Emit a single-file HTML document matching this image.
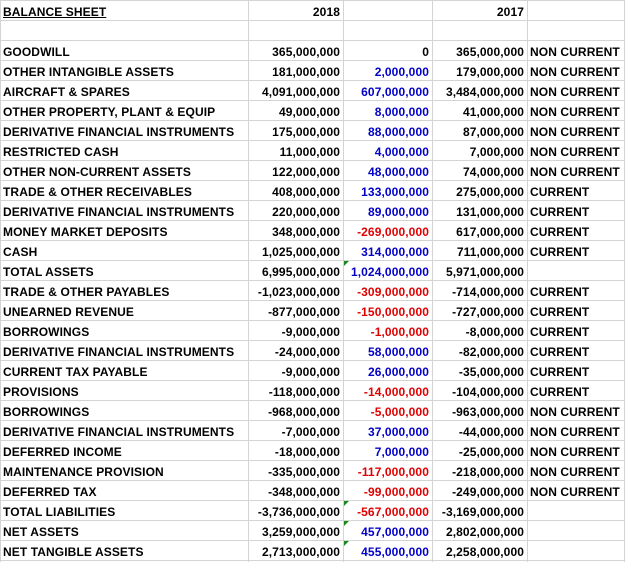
<!DOCTYPE html>
<html><head><meta charset="utf-8"><style>
body{margin:0;background:#fff;width:626px;height:562px;overflow:hidden;position:relative;font-family:"Liberation Sans",Arial,sans-serif;font-weight:bold;font-size:12px;letter-spacing:0.1px}
.c{position:absolute;height:20px;line-height:22px;white-space:nowrap;box-sizing:border-box}
.r{text-align:right;padding-right:3px;direction:ltr}
.l{padding-left:3px}
.hl{position:absolute;left:0;width:625px;height:1px;background:#d4d4d4}
.vl{position:absolute;top:0;height:562px;width:1px;background:#d4d4d4}
.tri{position:absolute;width:0;height:0;border-top:5px solid #1a8a1a;border-right:5px solid transparent}
.b{color:#0000c8}.rd{color:#e00000}
</style></head><body>
<div id="g"></div>
<script>
const labels=["GOODWILL","OTHER INTANGIBLE ASSETS","AIRCRAFT & SPARES","OTHER PROPERTY, PLANT & EQUIP","DERIVATIVE FINANCIAL INSTRUMENTS","RESTRICTED CASH","OTHER NON-CURRENT ASSETS","TRADE & OTHER RECEIVABLES","DERIVATIVE FINANCIAL INSTRUMENTS","MONEY MARKET DEPOSITS","CASH","TOTAL ASSETS","TRADE & OTHER PAYABLES","UNEARNED REVENUE","BORROWINGS","DERIVATIVE FINANCIAL INSTRUMENTS","CURRENT TAX PAYABLE","PROVISIONS","BORROWINGS","DERIVATIVE FINANCIAL INSTRUMENTS","DEFERRED INCOME","MAINTENANCE PROVISION","DEFERRED TAX","TOTAL LIABILITIES","NET ASSETS","NET TANGIBLE ASSETS"];
const v2018=[365000000,181000000,4091000000,49000000,175000000,11000000,122000000,408000000,220000000,348000000,1025000000,6995000000,-1023000000,-877000000,-9000000,-24000000,-9000000,-118000000,-968000000,-7000000,-18000000,-335000000,-348000000,-3736000000,3259000000,2713000000];
const change=[0,2000000,607000000,8000000,88000000,4000000,48000000,133000000,89000000,-269000000,314000000,1024000000,-309000000,-150000000,-1000000,58000000,26000000,-14000000,-5000000,37000000,7000000,-117000000,-99000000,-567000000,457000000,455000000];
const v2017=[365000000,179000000,3484000000,41000000,87000000,7000000,74000000,275000000,131000000,617000000,711000000,5971000000,-714000000,-727000000,-8000000,-82000000,-35000000,-104000000,-963000000,-44000000,-25000000,-218000000,-249000000,-3169000000,2802000000,2258000000];
const cls=["NON CURRENT","NON CURRENT","NON CURRENT","NON CURRENT","NON CURRENT","NON CURRENT","NON CURRENT","CURRENT","CURRENT","CURRENT","CURRENT","","CURRENT","CURRENT","CURRENT","CURRENT","CURRENT","CURRENT","NON CURRENT","NON CURRENT","NON CURRENT","NON CURRENT","NON CURRENT","","",""];
const flagged=[11,23,24,25];
const g=document.getElementById('g');
const X=[0,248,343,432,527,625];
function fmt(n){return (n<0?'-':'')+Math.abs(n).toLocaleString('en-US');}
function cell(col,row,text,align,extra,name){const d=document.createElement('div');


d.className='c '+align+(extra?' '+extra:'');d.style.left=X[col]+'px';d.style.top=(row*20+1)+'px';d.style.width=(X[col+1]-X[col])+'px';d.textContent=text;g.appendChild(d);return d;}
for(let i=0;i<=28;i++){const h=document.createElement('div');


h.className='hl';h.style.top=(i*20)+'px';g.appendChild(h);}
[0,248,343,432,527,624].forEach(x=>{const v=document.createElement('div');


v.className='vl';v.style.left=x+'px';g.appendChild(v);});
const t=cell(0,0,'BALANCE SHEET','l','','title');t.style.textDecoration='underline';
cell(1,0,'2018','r','','header-2018');
cell(3,0,'2017','r','','header-2017');
labels.forEach((lb,i)=>{const r=i+2;
cell(0,r,lb,'l','','row-label');
cell(1,r,fmt(v2018[i]),'r','','value-2018');
const c=change[i];cell(2,r,fmt(c),'r',c>0?'b':(c<0?'rd':''),'value-change');
cell(3,r,fmt(v2017[i]),'r','','value-2017');
if(cls[i])cell(4,r,cls[i],'l','','classification');
if(flagged.includes(i)){const tr=document.createElement('div');


tr.className='tri';tr.style.left='344px';tr.style.top=(r*20+1)+'px';g.appendChild(tr);}
});
</script>
</body></html>
